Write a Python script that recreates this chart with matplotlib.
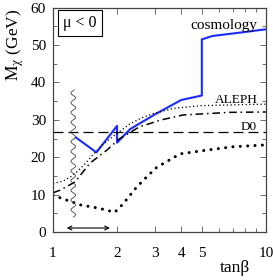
import numpy as np
import matplotlib
matplotlib.use("Agg")
import matplotlib.pyplot as plt
from matplotlib.ticker import FixedLocator, NullFormatter, MultipleLocator

plt.rcParams['font.family'] = ['Liberation Serif', 'DejaVu Serif']
plt.rcParams['mathtext.fontset'] = 'stix'

# cosmology bound (blue)
tb_cosmo = [1.28, 1.60, 2.0, 2.0, 2.3, 2.6, 3.0, 3.5, 4.0, 5.0, 5.0, 5.6, 7.8, 10]
m_cosmo = [25.3, 21.3, 28.4, 23.9, 27.5, 29.3, 31.4, 33.5, 35.3, 36.5, 51.5, 52.4, 53.4, 54.2]

# ALEPH (fine dotted)
tb_aleph = [1.0, 1.1, 1.2, 1.3, 1.4, 1.55, 1.7, 2.0, 2.3, 2.6, 3.0, 3.7, 5.0, 7.0, 10]
m_aleph = [13.0, 13.5, 14.6, 16.2, 18.0, 20.8, 23.3, 26.4, 28.9, 30.5, 31.8, 33.1, 33.8, 34.0, 34.2]

# dash-dot curve
tb_dd = [1.0, 1.08, 1.27, 1.49, 1.79, 2.06, 2.56, 2.85, 3.18, 4.08, 6.78, 10]
m_dd = [10.5, 11.2, 13.4, 18.4, 21.9, 25.0, 28.2, 29.0, 29.9, 31.3, 32.0, 32.1]

# thick dotted curve
tb_dot = [1.0, 1.1, 1.18, 1.36, 1.57, 1.72, 1.95, 2.15, 2.25, 2.47, 2.76, 3.07, 3.95, 5.26, 7.0, 10]
m_dot = [9.9, 9.0, 8.4, 7.2, 6.6, 6.1, 5.3, 7.7, 9.2, 12.0, 14.8, 17.3, 20.9, 21.9, 22.8, 23.3]

# D0 limit
m_d0 = 26.8

fig = plt.figure(figsize=(2.73, 2.80), dpi=100)
ax = fig.add_axes([0.194, 0.171, 0.780, 0.802])

ax.plot(tb_cosmo, m_cosmo, color='#1a2cff', lw=1.5)
ax.plot(tb_aleph, m_aleph, color='black', lw=0.9, linestyle=(0, (1, 2)))
ax.plot(tb_dd, m_dd, color='black', lw=1.1, linestyle=(0, (5, 2.5, 1, 2.5)))
ax.plot(tb_dot, m_dot, color='black', lw=2.2, linestyle=(0, (0.01, 2.4)),
        dash_capstyle='round')
ax.axhline(m_d0, color='black', lw=0.9, linestyle=(0, (8, 4)))

# wavy vertical marker
mw = np.linspace(4, 38, 400)
xw = 1.245 * 10 ** (0.011 * np.sin(2 * np.pi * (mw - 4) / 2.6))
ax.plot(xw, mw, color='#444444', lw=0.6)

ax.annotate('', xy=(1.85, 1.1), xytext=(1.16, 1.1),
            arrowprops=dict(arrowstyle='<->', lw=0.8, color='black',
                            shrinkA=0, shrinkB=0, mutation_scale=7))

ax.set_xscale('log')
ax.set_xlim(1, 10)
ax.set_ylim(0, 60)
ax.xaxis.set_major_locator(FixedLocator([1, 2, 3, 4, 5, 10]))
ax.set_xticklabels(['1', '2', '3', '4', '5', '10'])
ax.xaxis.set_minor_locator(FixedLocator([6, 7, 8, 9]))
ax.xaxis.set_minor_formatter(NullFormatter())
ax.yaxis.set_major_locator(MultipleLocator(10))
ax.yaxis.set_minor_locator(MultipleLocator(5))

ax.tick_params(which='both', direction='in', top=True, right=True,
               labelsize=11, width=0.6, color='#555555')
ax.tick_params(which='major', length=4)
ax.tick_params(which='minor', length=3)
ax.tick_params(axis='x', pad=11)
ax.tick_params(axis='y', pad=5)
for s in ax.spines.values():
    s.set_linewidth(0.9)
    s.set_color('#444444')

ax.text(0.127, 0.931, 'μ < 0', transform=ax.transAxes, ha='center',
        va='center', fontsize=11.5,
        bbox=dict(boxstyle='square,pad=0.3', fc='white', ec='black', lw=0.8))
ax.text(0.96, 0.922, 'cosmology', transform=ax.transAxes, ha='right',
        va='center', fontsize=11)
ax.text(0.96, 0.587, 'ALEPH', transform=ax.transAxes, ha='right',
        va='center', fontsize=9.5)
ax.text(0.955, 0.468, 'D0', transform=ax.transAxes, ha='right',
        va='center', fontsize=9.5)

fig.text(0.055, 0.84, r'$\mathrm{M}_{\mathrm{χ}}$ (GeV)', rotation=90,
         ha='center', va='center', fontsize=12.5)
fig.text(0.86, 0.043, 'tanβ', ha='center', va='center', fontsize=12.5)

fig.savefig('out.png', dpi=100)
